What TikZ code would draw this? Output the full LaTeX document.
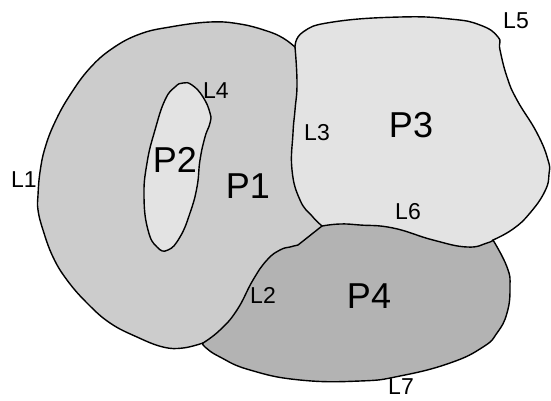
\documentclass[tikz,border=0pt]{standalone}
\usepackage{fontspec}
\setmainfont{Liberation Sans}
\definecolor{pone}{HTML}{CCCCCC}
\definecolor{plight}{HTML}{E3E3E3}
\definecolor{pfour}{HTML}{B3B3B3}
% boundary lines between the polygons (A=(295,47), B=(493,240), C=(322,226), D=(203,343));
% each one continues the current path from its first point
\def\Lone{-- plot[smooth,tension=0.7] coordinates {(295,47) (283,38) (267,31) (240,24) (210,22) (170,27) (140,34) (113,48) (90,68) (70,95) (55,122) (45,148) (40,172) (38,195) (38,210) (43,230) (53,257) (67,280) (87,303) (110,323) (137,337) (163,347) (183,348) (203,343)}}
\def\Ltwo{-- plot[smooth,tension=0.8] coordinates {(203,343) (220,330) (237,310) (253,280) (267,260) (280,250) (290,247) (298,245)} -- (322,226)}
\def\Lthree{-- plot[smooth,tension=0.8] coordinates {(295,47) (297,83) (295,110) (293,133) (292,170) (300,200) (312,216) (322,226)}}
\def\Lthreerev{-- plot[smooth,tension=0.8] coordinates {(322,226) (312,216) (300,200) (292,170) (293,133) (295,110) (297,83) (295,47)}}
\def\Lfive{-- plot[smooth,tension=0.8] coordinates {(295,47) (303,32) (333,22) (400,17) (450,19) (480,25) (498,37) (500,50) (507,77) (517,100) (537,133) (548,160) (549,174) (545,191) (530,213) (513,229) (493,240)}}
\def\Lsix{-- plot[smooth,tension=0.8] coordinates {(322,226) (340,224) (360,225) (393,228) (433,240) (467,247) (487,243) (493,240)}}
\def\Lsixrev{-- plot[smooth,tension=0.8] coordinates {(493,240) (487,243) (467,247) (433,240) (393,228) (360,225) (340,224) (322,226)}}
\def\Lseven{-- plot[smooth,tension=0.8] coordinates {(493,240) (507,267) (510,287) (507,313) (497,333) (483,347) (450,363) (400,376) (360,381) (300,380) (250,370) (220,357) (205,347) (203,343)}}
\begin{document}
\begin{tikzpicture}[x=1pt,y=-1pt,
  edge/.style={draw=black,line width=1.4pt,line join=round,line cap=round},
  small/.style={font=\fontsize{23}{23}\selectfont,inner sep=0pt},
  big/.style={font=\fontsize{36}{36}\selectfont,inner sep=0pt}]
\useasboundingbox (0,0) rectangle (551,400);
% region fills
\fill[pone] (295,47) \Lone \Ltwo \Lthreerev -- cycle;
\fill[plight] (295,47) \Lfive \Lsixrev \Lthreerev -- cycle;
\fill[pfour] (322,226) \Lsix \Lseven \Ltwo -- cycle;
% boundary lines
\draw[edge] (295,47) \Lone;
\draw[edge] (203,343) \Ltwo;
\draw[edge] (295,47) \Lthree;
\draw[edge] (295,47) \Lfive;
\draw[edge] (322,226) \Lsix;
\draw[edge] (493,240) \Lseven;
% the hole bounded by L4
\filldraw[edge,fill=plight] plot[smooth cycle,tension=0.8] coordinates {(183,83) (192,85) (203,97) (210,113) (210,123) (205,137) (200,160) (197,187) (190,213) (180,237) (168,250) (157,247) (148,230) (144,197) (147,163) (155,130) (165,100) (175,87)};
% labels
\node[small] (l1) at (24,180) {L1};
\node[small] (l2) at (263,295) {L2};
\node[small] (l3) at (317,133) {L3};
\node[small] (l4) at (216,91) {L4};
\node[small] (l5) at (516,21) {L5};
\node[small] (l6) at (408,212) {L6};
\node[small] (l7) at (401,387) {L7};
\node[big] (p1) at (248,186) {P1};
\node[big] (p2) at (175,160) {P2};
\node[big] (p3) at (411,125) {P3};
\node[big] (p4) at (369,296) {P4};
\end{tikzpicture}
\end{document}
